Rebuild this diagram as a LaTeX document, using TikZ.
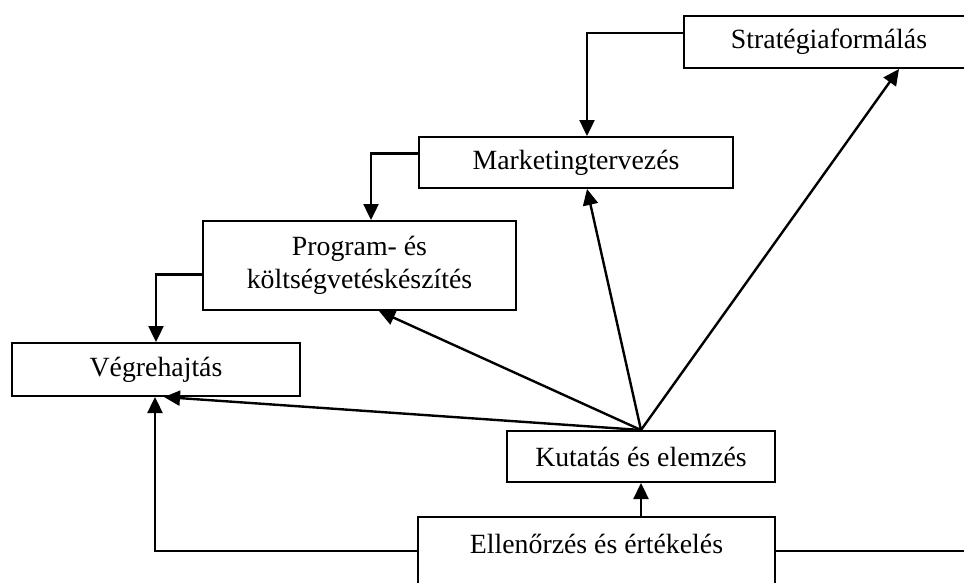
\documentclass[tikz,border=0pt]{standalone}
\usepackage{fontspec}
\setmainfont{Liberation Serif}
\usetikzlibrary{arrows.meta,calc}
\begin{document}
\begin{tikzpicture}[x=1pt,y=-1pt,
  box/.style={draw,line width=2pt,rectangle,inner sep=0pt,align=center,
    font=\fontsize{27.8}{33}\selectfont},
  link/.style={line width=2.4pt},
  arr/.style={link,-{Triangle[length=16pt,width=15pt]}}]
\useasboundingbox (0,0) rectangle (964,582);
\clip (0,0) rectangle (964,582);
% process boxes
\node[box,minimum width=290,minimum height=52] (strat) at (829,42) {Stratégiaformálás};
\node[box,minimum width=314,minimum height=51] (mkt) at (576,162.5) {Marketingtervezés};
\node[box,minimum width=313,minimum height=89] (prog) at (359.5,265.5) {Program- és\\költségvetéskészítés};
\node[box,minimum width=288,minimum height=53] (vegr) at (156,369.5) {Végrehajtás};
\node[box,minimum width=268,minimum height=51] (kut) at (641,456.5) {Kutatás és elemzés};
\node[box,minimum width=357,minimum height=100,anchor=north] (ell) at (596.5,516) {};
\node[font=\fontsize{27.8}{33}\selectfont,inner sep=0pt,anchor=base] (elltext) at (596.5,553) {Ellenőrzés és értékelés};
% free end of the feedback line on the right
\coordinate (rightend) at (964,551);
% top-down cascade
\draw[arr] ($(strat.north west)!0.33!(strat.south west)$) -| ($(mkt.north west)+(169,0)$);
\draw[arr] ($(mkt.north west)!0.33!(mkt.south west)$) -| ($(prog.north west)+(169,0)$);
\draw[arr] ($(prog.north west)!0.6!(prog.south west)$) -| (vegr.north);
% research feeds every level
\draw[arr] (kut.north) -- ($(vegr.south west)+(153,0)$);
\draw[arr] (kut.north) -- ($(prog.south west)+(177,0)$);
\draw[arr] (kut.north) -- ($(mkt.south west)+(169,0)$);
\draw[arr] (kut.north) -- ($(strat.south west)+(216,0)$);
% control and evaluation
\draw[arr] (kut.south |- ell.north) -- (kut.south);
\draw[arr] ($(ell.north west)+(0,35)$) -| ($(vegr.south west)+(144,0)$);
\draw[link] ($(ell.north east)+(0,35)$) -- (rightend);
\end{tikzpicture}
\end{document}
